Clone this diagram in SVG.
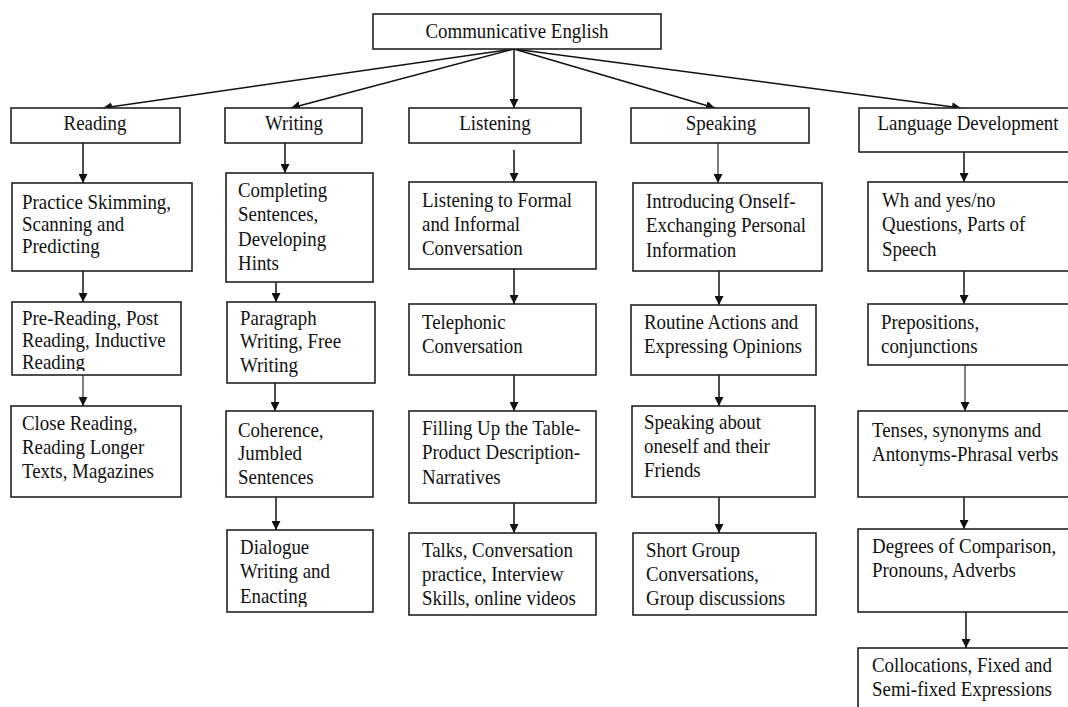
<svg xmlns="http://www.w3.org/2000/svg" width="1068" height="707" viewBox="0 0 1068 707">
  <style>
    .box { fill: #ffffff; stroke: #222222; stroke-width: 1.6; }
    .lbl { font-family: "Liberation Serif", "Times New Roman", serif; font-size: 21px; fill: #111111; }
    .mid { text-anchor: middle; }
    .link { fill: none; stroke: #111111; stroke-width: 1.5; marker-end: url(#arrow); }
    .soft { stroke: #555555; }
  </style>
  <defs>
    <marker id="arrow" viewBox="0 0 10 10" refX="10" refY="5" markerUnits="userSpaceOnUse" markerWidth="9" markerHeight="9" orient="auto">
      <path d="M0,0 L10,5 L0,10 z" fill="#111111"/>
    </marker>
    <clipPath id="clip-r3"><rect x="12" y="302" width="169" height="69"/></clipPath>
    <clipPath id="clip-w5"><rect x="227" y="530" width="146" height="77"/></clipPath>
  </defs>

  <rect x="0" y="0" width="1068" height="707" fill="#ffffff"/>

  <!-- connectors -->
  <g id="connectors">
    <path class="link" d="M514,49 L103,108"/>
    <path class="link" d="M514,49 L291,108"/>
    <path class="link" d="M514,49 L514,108"/>
    <path class="link" d="M514,49 L715,108"/>
    <path class="link" d="M514,49 L961,108"/>

    <path class="link" d="M83,143 L83,183"/>
    <path class="link" d="M83,271 L83,302"/>
    <path class="link soft" d="M83,375 L83,406"/>

    <path class="link" d="M285,143 L285,173"/>
    <path class="link" d="M276,282 L276,302"/>
    <path class="link" d="M275,383 L275,411"/>
    <path class="link" d="M276,497 L276,530"/>

    <path class="link" d="M514,150 L514,182"/>
    <path class="link" d="M514,269 L514,304"/>
    <path class="link" d="M514,375 L514,411"/>
    <path class="link" d="M514,503 L514,533"/>

    <path class="link soft" d="M718,143 L718,183"/>
    <path class="link" d="M719,271 L719,305"/>
    <path class="link" d="M719,375 L719,406"/>
    <path class="link" d="M719,497 L719,533"/>

    <path class="link" d="M964,152 L964,182"/>
    <path class="link" d="M964,271 L964,304"/>
    <path class="link soft" d="M965,365 L965,411"/>
    <path class="link" d="M964,497 L964,529"/>
    <path class="link" d="M966,612 L966,648"/>
  </g>

  <!-- root -->
  <g id="communicative-english">
    <rect class="box" x="373" y="14" width="288" height="35"/>
    <text class="lbl mid" transform="translate(517,38) scale(0.9,1)">Communicative English</text>
  </g>

  <!-- skill headings -->
  <g id="reading">
    <rect class="box" x="11" y="108" width="169" height="35"/>
    <text class="lbl mid" transform="translate(95,130) scale(0.9,1)">Reading</text>
  </g>
  <g id="writing">
    <rect class="box" x="225" y="108" width="137" height="35"/>
    <text class="lbl mid" transform="translate(294,130) scale(0.9,1)">Writing</text>
  </g>
  <g id="listening">
    <rect class="box" x="409" y="108" width="172" height="35"/>
    <text class="lbl mid" transform="translate(495,130) scale(0.9,1)">Listening</text>
  </g>
  <g id="speaking">
    <rect class="box" x="631" y="108" width="178" height="35"/>
    <text class="lbl mid" transform="translate(721,130) scale(0.9,1)">Speaking</text>
  </g>
  <g id="language-development">
    <rect class="box" x="859" y="108" width="216" height="44"/>
    <text class="lbl mid" transform="translate(968,130) scale(0.9,1)">Language Development</text>
  </g>

  <!-- reading column -->
  <g id="reading-2">
    <rect class="box" x="12" y="183" width="180" height="88"/>
    <text class="lbl" transform="translate(22,209) scale(0.9,1)"><tspan x="0" y="0">Practice Skimming,</tspan><tspan x="0" y="22">Scanning and</tspan><tspan x="0" y="44">Predicting</tspan></text>
  </g>
  <g id="reading-3">
    <rect class="box" x="12" y="302" width="169" height="73"/>
    <g clip-path="url(#clip-r3)">
      <text class="lbl" transform="translate(22,325) scale(0.9,1)"><tspan x="0" y="0">Pre-Reading, Post</tspan><tspan x="0" y="22">Reading, Inductive</tspan><tspan x="0" y="44">Reading</tspan></text>
    </g>
  </g>
  <g id="reading-4">
    <rect class="box" x="11" y="406" width="170" height="91"/>
    <text class="lbl" transform="translate(22,430) scale(0.9,1)"><tspan x="0" y="0">Close Reading,</tspan><tspan x="0" y="24">Reading Longer</tspan><tspan x="0" y="48">Texts, Magazines</tspan></text>
  </g>

  <!-- writing column -->
  <g id="writing-2">
    <rect class="box" x="226" y="173" width="147" height="109"/>
    <text class="lbl" transform="translate(238,197) scale(0.9,1)"><tspan x="0" y="0">Completing</tspan><tspan x="0" y="24.5">Sentences,</tspan><tspan x="0" y="49">Developing</tspan><tspan x="0" y="73.5">Hints</tspan></text>
  </g>
  <g id="writing-3">
    <rect class="box" x="227" y="302" width="148" height="81"/>
    <text class="lbl" transform="translate(240,325) scale(0.9,1)"><tspan x="0" y="0">Paragraph</tspan><tspan x="0" y="23.5">Writing, Free</tspan><tspan x="0" y="47">Writing</tspan></text>
  </g>
  <g id="writing-4">
    <rect class="box" x="226" y="411" width="147" height="86"/>
    <text class="lbl" transform="translate(238,437) scale(0.9,1)"><tspan x="0" y="0">Coherence,</tspan><tspan x="0" y="23.5">Jumbled</tspan><tspan x="0" y="47">Sentences</tspan></text>
  </g>
  <g id="writing-5">
    <rect class="box" x="227" y="530" width="146" height="82"/>
    <g clip-path="url(#clip-w5)">
      <text class="lbl" transform="translate(240,554) scale(0.9,1)"><tspan x="0" y="0">Dialogue</tspan><tspan x="0" y="24.5">Writing and</tspan><tspan x="0" y="49">Enacting</tspan></text>
    </g>
  </g>

  <!-- listening column -->
  <g id="listening-2">
    <rect class="box" x="409" y="182" width="187" height="87"/>
    <text class="lbl" transform="translate(422,207) scale(0.9,1)"><tspan x="0" y="0">Listening to Formal</tspan><tspan x="0" y="24">and Informal</tspan><tspan x="0" y="48">Conversation</tspan></text>
  </g>
  <g id="listening-3">
    <rect class="box" x="409" y="304" width="187" height="71"/>
    <text class="lbl" transform="translate(422,329) scale(0.9,1)"><tspan x="0" y="0">Telephonic</tspan><tspan x="0" y="24">Conversation</tspan></text>
  </g>
  <g id="listening-4">
    <rect class="box" x="409" y="411" width="187" height="92"/>
    <text class="lbl" transform="translate(422,435) scale(0.9,1)"><tspan x="0" y="0">Filling Up the Table-</tspan><tspan x="0" y="24.5">Product Description-</tspan><tspan x="0" y="49">Narratives</tspan></text>
  </g>
  <g id="listening-5">
    <rect class="box" x="409" y="533" width="187" height="82"/>
    <text class="lbl" transform="translate(422,557) scale(0.9,1)"><tspan x="0" y="0">Talks, Conversation</tspan><tspan x="0" y="24">practice, Interview</tspan><tspan x="0" y="48">Skills, online videos</tspan></text>
  </g>

  <!-- speaking column -->
  <g id="speaking-2">
    <rect class="box" x="633" y="183" width="189" height="88"/>
    <text class="lbl" transform="translate(646,208) scale(0.9,1)"><tspan x="0" y="0">Introducing Onself-</tspan><tspan x="0" y="24.5">Exchanging Personal</tspan><tspan x="0" y="49">Information</tspan></text>
  </g>
  <g id="speaking-3">
    <rect class="box" x="631" y="305" width="185" height="70"/>
    <text class="lbl" transform="translate(644,329) scale(0.9,1)"><tspan x="0" y="0">Routine Actions and</tspan><tspan x="0" y="24">Expressing Opinions</tspan></text>
  </g>
  <g id="speaking-4">
    <rect class="box" x="632" y="406" width="183" height="91"/>
    <text class="lbl" transform="translate(644,429) scale(0.9,1)"><tspan x="0" y="0">Speaking about</tspan><tspan x="0" y="24">oneself and their</tspan><tspan x="0" y="48">Friends</tspan></text>
  </g>
  <g id="speaking-5">
    <rect class="box" x="633" y="533" width="183" height="82"/>
    <text class="lbl" transform="translate(646,557) scale(0.9,1)"><tspan x="0" y="0">Short Group</tspan><tspan x="0" y="24">Conversations,</tspan><tspan x="0" y="48">Group discussions</tspan></text>
  </g>

  <!-- language development column -->
  <g id="language-2">
    <rect class="box" x="868" y="182" width="207" height="89"/>
    <text class="lbl" transform="translate(882,207) scale(0.9,1)"><tspan x="0" y="0">Wh and yes/no</tspan><tspan x="0" y="24.5">Questions, Parts of</tspan><tspan x="0" y="49">Speech</tspan></text>
  </g>
  <g id="language-3">
    <rect class="box" x="868" y="304" width="207" height="61"/>
    <text class="lbl" transform="translate(881,329) scale(0.9,1)"><tspan x="0" y="0">Prepositions,</tspan><tspan x="0" y="24">conjunctions</tspan></text>
  </g>
  <g id="language-4">
    <rect class="box" x="858" y="411" width="217" height="86"/>
    <text class="lbl" transform="translate(872,437) scale(0.9,1)"><tspan x="0" y="0">Tenses, synonyms and</tspan><tspan x="0" y="24">Antonyms-Phrasal verbs</tspan></text>
  </g>
  <g id="language-5">
    <rect class="box" x="858" y="529" width="217" height="83"/>
    <text class="lbl" transform="translate(872,553) scale(0.9,1)"><tspan x="0" y="0">Degrees of Comparison,</tspan><tspan x="0" y="24">Pronouns, Adverbs</tspan></text>
  </g>
  <g id="language-6">
    <rect class="box" x="858" y="648" width="217" height="72"/>
    <text class="lbl" transform="translate(872,672) scale(0.9,1)"><tspan x="0" y="0">Collocations, Fixed and</tspan><tspan x="0" y="24">Semi-fixed Expressions</tspan></text>
  </g>
</svg>
